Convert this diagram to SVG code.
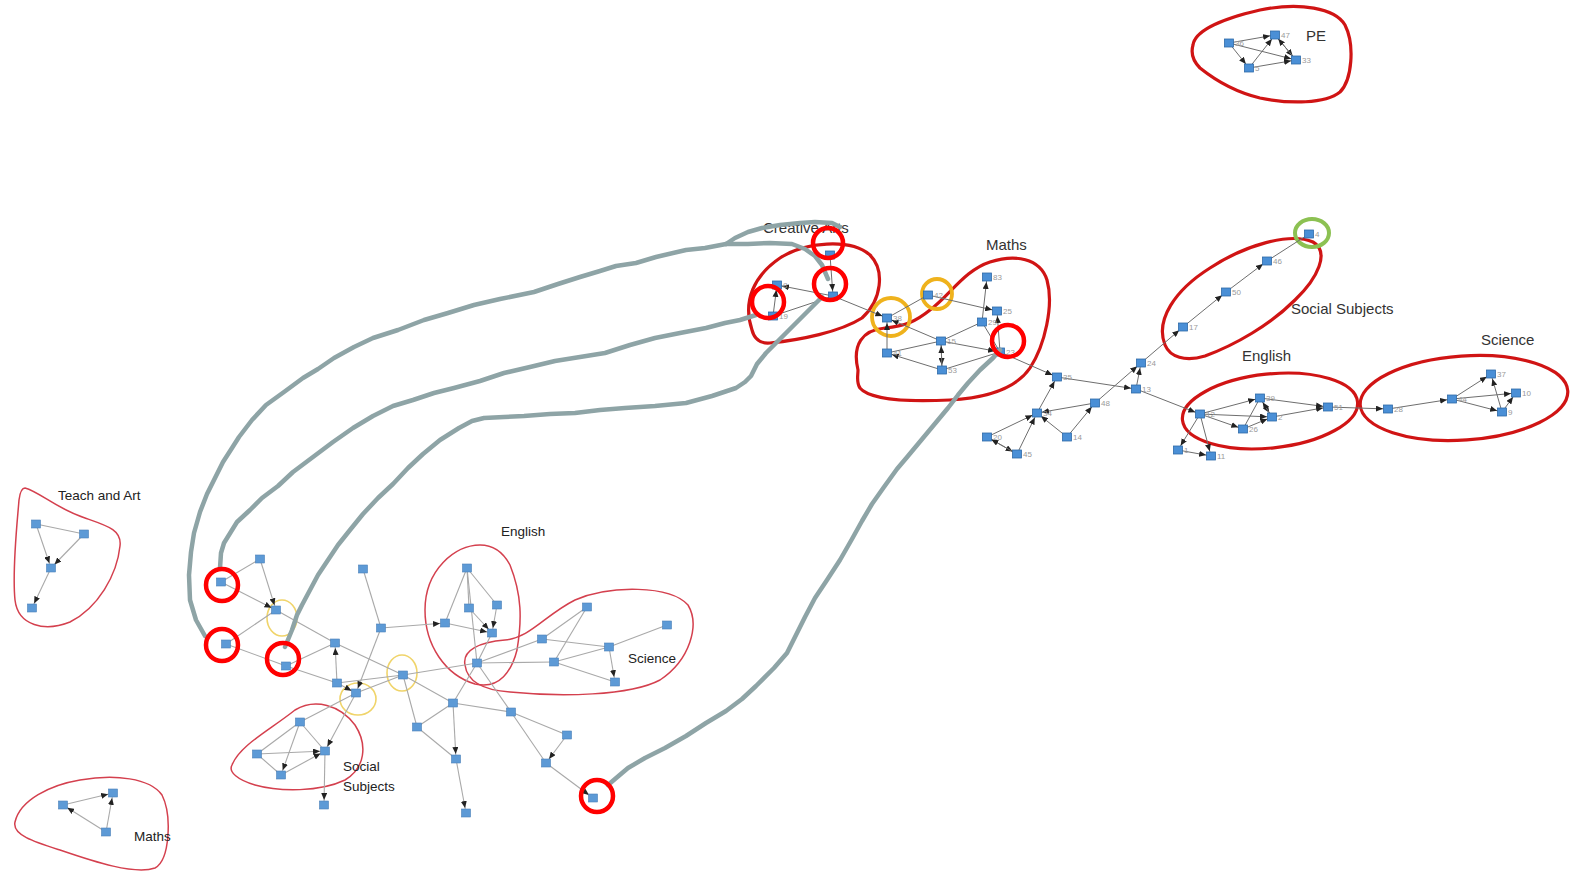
<svg xmlns="http://www.w3.org/2000/svg" width="1581" height="873" viewBox="0 0 1581 873">
<style>
.nd rect{fill:#4a8fd6;stroke:#2f6aa8;stroke-width:0.8}
.nl rect{fill:#5d9ad6;stroke:#4a7fb8;stroke-width:0.6}
.nd text,.nl text{font-family:"Liberation Sans",Arial,sans-serif;font-size:8px;fill:#9a9a9a}
.e{stroke:#6e6e6e;stroke-width:1;fill:none}
.el{stroke:#a9a9a9;stroke-width:1.1;fill:none}
.a{marker-end:url(#ar)}
.blob{fill:none;stroke:#d01414;stroke-width:3.2}
.blobl{fill:none;stroke:#d4404e;stroke-width:1.5}
.rc{fill:none;stroke:#ff0000;stroke-width:4.5}
.yc{fill:none;stroke:#efb21c;stroke-width:3.8}
.ycl{fill:none;stroke:#f0d46a;stroke-width:1.6}
.gc{fill:none;stroke:#8ea4a6;stroke-width:4.5;stroke-linecap:round;stroke-linejoin:round}
.lb{font-family:"Liberation Sans",Arial,sans-serif;font-size:15px;fill:#333}
.lbs{font-family:"Liberation Sans",Arial,sans-serif;font-size:13.5px;fill:#222}
</style>
<defs>
<marker id="ar" markerUnits="userSpaceOnUse" markerWidth="7" markerHeight="6" refX="12" refY="3" orient="auto">
<path d="M0,0 L7,3 L0,6 z" fill="#222"/>
</marker>
</defs>
<rect width="1581" height="873" fill="#ffffff"/>

<!-- cluster outlines -->
<g id="clusters">
<path class="blob" d="M1193,45 C1195,30 1225,18 1260,10 C1300,2 1335,8 1345,25 C1355,45 1352,80 1340,92 C1325,104 1290,104 1260,98 C1235,92 1215,80 1200,68 C1192,60 1191,52 1193,45 Z"/>
<path class="blob" d="M752,330 C742,300 755,275 780,258 C805,242 850,238 870,255 C885,270 882,300 862,318 C840,332 800,340 770,343 C760,344 754,338 752,330 Z"/>
<path class="blob" d="M858,370 C852,345 862,330 885,328 C905,326 915,322 930,310 C950,295 965,270 990,262 C1015,254 1040,258 1047,280 C1054,305 1045,345 1030,368 C1015,390 985,398 950,400 C910,402 870,400 860,388 C856,382 858,376 858,370 Z"/>
<path class="blob" d="M1165,345 C1155,320 1175,290 1210,268 C1245,245 1290,232 1313,242 C1330,252 1318,278 1295,300 C1270,325 1235,345 1205,356 C1185,362 1170,357 1165,345 Z"/>
<ellipse class="blob" cx="1270" cy="411" rx="88" ry="37" transform="rotate(-6 1270 411)"/>
<ellipse class="blob" cx="1464" cy="398" rx="104" ry="42" transform="rotate(-4 1464 398)"/>
<ellipse cx="1312" cy="233" rx="17" ry="14" fill="none" stroke="#8cc152" stroke-width="4"/>
<circle class="yc" cx="891" cy="317" r="19"/>
<circle class="yc" cx="937" cy="294" r="15"/>

<path class="blobl" d="M25,488 C40,492 55,508 85,518 C108,526 122,530 120,546 C117,575 98,608 70,622 C45,632 18,626 15,600 C12,570 17,525 19,500 C20,492 22,488 25,488 Z"/>
<path class="blobl" d="M480,545 C455,545 425,570 425,610 C425,645 445,675 475,684 C500,690 512,670 517,650 C522,620 522,595 510,565 C502,550 492,545 480,545 Z"/>
<path class="blobl" d="M465,665 C462,650 480,642 505,640 C530,638 545,615 575,600 C610,585 670,585 688,605 C700,625 690,660 660,680 C630,696 560,697 510,692 C480,690 467,680 465,665 Z"/>
<path class="blobl" d="M232,765 C240,745 270,730 295,710 C315,698 340,705 355,725 C368,745 365,768 345,780 C320,792 280,792 255,785 C238,780 228,772 232,765 Z"/>
<path class="blobl" d="M15,822 C20,800 50,785 80,780 C115,774 150,778 162,795 C172,815 170,860 155,868 C135,875 95,862 60,850 C35,842 12,835 15,822 Z"/>
<ellipse class="ycl" cx="282" cy="618" rx="15" ry="18"/>
<ellipse class="ycl" cx="358" cy="699" rx="18" ry="16"/>
<ellipse class="ycl" cx="402" cy="673" rx="15" ry="18"/>
</g>

<g id="connectors">
<!-- PE -->
<path class="e a" d="M1229,43 L1275,35"/>
<path class="e a" d="M1229,43 L1249,68"/>
<path class="e a" d="M1229,43 L1296,60"/>
<path class="e a" d="M1249,68 L1275,35"/>
<path class="e a" d="M1249,68 L1296,60"/>
<path class="e a" d="M1275,35 L1296,60"/>
<path class="e a" d="M1296,60 L1275,35"/>
<!-- Creative arts -->
<path class="e a" d="M830,255 L833,296"/>
<path class="e a" d="M833,296 L777,285"/>
<path class="e a" d="M773,316 L777,285"/>
<path class="e" d="M773,316 L833,296"/>
<path class="e a" d="M833,296 L887,318"/>
<!-- Maths -->
<path class="e" d="M887,318 L928,295"/>
<path class="e a" d="M928,295 L997,311"/>
<path class="e a" d="M941,341 L887,318"/>
<path class="e a" d="M887,353 L887,318"/>
<path class="e" d="M887,353 L941,341"/>
<path class="e a" d="M942,370 L887,353"/>
<path class="e a" d="M941,341 L942,370"/>
<path class="e a" d="M942,370 L941,341"/>
<path class="e" d="M941,341 L982,322"/>
<path class="e a" d="M941,341 L1000,352"/>
<path class="e" d="M942,370 L1000,352"/>
<path class="e a" d="M982,322 L987,277"/>
<path class="e" d="M1000,352 L982,322"/>
<path class="e a" d="M1000,352 L997,311"/>
<path class="e a" d="M1000,352 L1057,377"/>
<!-- middle -->
<path class="e a" d="M1057,377 L1136,389"/>
<path class="e a" d="M1037,413 L1057,377"/>
<path class="e a" d="M1095,403 L1037,413"/>
<path class="e a" d="M1067,437 L1095,403"/>
<path class="e a" d="M1067,437 L1037,413"/>
<path class="e a" d="M987,437 L1037,413"/>
<path class="e a" d="M1017,454 L1037,413"/>
<path class="e a" d="M987,437 L1017,454"/>
<path class="e a" d="M1017,454 L987,437"/>
<path class="e a" d="M1095,403 L1141,363"/>
<path class="e a" d="M1136,389 L1141,363"/>
<path class="e a" d="M1136,389 L1200,414"/>
<path class="e a" d="M1141,363 L1183,327"/>
<path class="e a" d="M1183,327 L1226,292"/>
<path class="e a" d="M1226,292 L1267,261"/>
<path class="e" d="M1267,261 L1309,234"/>
<!-- English right -->
<path class="e a" d="M1200,414 L1260,398"/>
<path class="e a" d="M1200,414 L1272,417"/>
<path class="e a" d="M1200,414 L1243,429"/>
<path class="e a" d="M1260,398 L1272,417"/>
<path class="e a" d="M1272,417 L1260,398"/>
<path class="e" d="M1243,429 L1260,398"/>
<path class="e a" d="M1243,429 L1272,417"/>
<path class="e a" d="M1260,398 L1328,407"/>
<path class="e a" d="M1272,417 L1328,407"/>
<path class="e a" d="M1328,407 L1388,409"/>
<path class="e a" d="M1200,414 L1178,450"/>
<path class="e a" d="M1200,414 L1211,456"/>
<path class="e a" d="M1178,450 L1211,456"/>
<!-- Science right -->
<path class="e a" d="M1388,409 L1452,399"/>
<path class="e a" d="M1452,399 L1491,374"/>
<path class="e a" d="M1452,399 L1516,393"/>
<path class="e a" d="M1452,399 L1502,412"/>
<path class="e a" d="M1502,412 L1491,374"/>
<path class="e a" d="M1502,412 L1516,393"/>
<!-- Teach and Art -->
<path class="el" d="M36,524 L84,534"/>
<path class="el a" d="M36,524 L51,568"/>
<path class="el a" d="M84,534 L51,568"/>
<path class="el a" d="M51,568 L32,608"/>
<!-- Maths bottom -->
<path class="el a" d="M63,805 L113,793"/>
<path class="el a" d="M106,832 L63,805"/>
<path class="el a" d="M106,832 L113,793"/>
<!-- left network -->
<path class="el" d="M221,582 L260,559"/>
<path class="el a" d="M260,559 L276,610"/>
<path class="el a" d="M221,582 L276,610"/>
<path class="el" d="M276,610 L226,644"/>
<path class="el" d="M276,610 L335,643"/>
<path class="el" d="M226,644 L286,666"/>
<path class="el" d="M286,666 L335,643"/>
<path class="el" d="M286,666 L337,683"/>
<path class="el a" d="M337,683 L335,643"/>
<path class="el" d="M335,643 L403,675"/>
<path class="el a" d="M337,683 L356,693"/>
<path class="el" d="M337,683 L403,675"/>
<path class="el" d="M363,569 L381,628"/>
<path class="el a" d="M381,628 L445,623"/>
<path class="el a" d="M381,628 L356,693"/>
<path class="el" d="M356,693 L403,675"/>
<path class="el" d="M403,675 L477,663"/>
<path class="el" d="M403,675 L453,703"/>
<path class="el" d="M403,675 L417,727"/>
<path class="el" d="M356,693 L300,722"/>
<path class="el a" d="M356,693 L325,751"/>
<path class="el" d="M300,722 L257,754"/>
<path class="el a" d="M300,722 L281,775"/>
<path class="el" d="M300,722 L325,751"/>
<path class="el a" d="M257,754 L325,751"/>
<path class="el" d="M257,754 L281,775"/>
<path class="el a" d="M281,775 L325,751"/>
<path class="el a" d="M325,751 L324,805"/>
<!-- English / Science left -->
<path class="el" d="M467,568 L445,623"/>
<path class="el" d="M467,568 L469,608"/>
<path class="el" d="M467,568 L497,605"/>
<path class="el" d="M467,568 L477,663"/>
<path class="el a" d="M469,608 L492,633"/>
<path class="el a" d="M445,623 L492,633"/>
<path class="el a" d="M497,605 L492,633"/>
<path class="el" d="M492,633 L477,663"/>
<path class="el" d="M477,663 L554,662"/>
<path class="el" d="M477,663 L542,639"/>
<path class="el" d="M542,639 L609,647"/>
<path class="el" d="M587,607 L554,662"/>
<path class="el" d="M587,607 L542,639"/>
<path class="el" d="M554,662 L609,647"/>
<path class="el" d="M609,647 L667,625"/>
<path class="el a" d="M609,647 L615,682"/>
<path class="el" d="M554,662 L615,682"/>
<!-- lower -->
<path class="el" d="M477,663 L511,712"/>
<path class="el" d="M477,663 L453,703"/>
<path class="el" d="M453,703 L417,727"/>
<path class="el a" d="M453,703 L456,759"/>
<path class="el" d="M417,727 L456,759"/>
<path class="el a" d="M456,759 L466,813"/>
<path class="el" d="M453,703 L511,712"/>
<path class="el" d="M511,712 L567,735"/>
<path class="el" d="M511,712 L546,763"/>
<path class="el a" d="M567,735 L546,763"/>
<path class="el a" d="M546,763 L593,798"/>
</g>

<!-- nodes right -->
<g id="n36" class="nd"><rect x="1224.5" y="39" width="9" height="8"/><text x="1235" y="46">36</text></g>
<g id="n47" class="nd"><rect x="1270.5" y="31" width="9" height="8"/><text x="1281" y="38">47</text></g>
<g id="n5" class="nd"><rect x="1244.5" y="64" width="9" height="8"/><text x="1255" y="71">5</text></g>
<g id="n33" class="nd"><rect x="1291.5" y="56" width="9" height="8"/><text x="1302" y="63">33</text></g>
<g id="n8" class="nd"><rect x="772.5" y="281" width="9" height="8"/><text x="783" y="288">8</text></g>
<g id="n19" class="nd"><rect x="768.5" y="312" width="9" height="8"/><text x="779" y="319">19</text></g>
<g id="nca" class="nd"><rect x="828.5" y="292" width="9" height="8"/></g>
<g id="nct" class="nd"><rect x="825.5" y="251" width="9" height="8"/></g>
<g id="n38" class="nd"><rect x="882.5" y="314" width="9" height="8"/><text x="893" y="321">38</text></g>
<g id="n42" class="nd"><rect x="923.5" y="291" width="9" height="8"/><text x="934" y="298">42</text></g>
<g id="n83" class="nd"><rect x="982.5" y="273" width="9" height="8"/><text x="993" y="280">83</text></g>
<g id="n25" class="nd"><rect x="992.5" y="307" width="9" height="8"/><text x="1003" y="314">25</text></g>
<g id="n29" class="nd"><rect x="977.5" y="318" width="9" height="8"/><text x="988" y="325">29</text></g>
<g id="n15" class="nd"><rect x="936.5" y="337" width="9" height="8"/><text x="947" y="344">15</text></g>
<g id="n41" class="nd"><rect x="882.5" y="349" width="9" height="8"/><text x="893" y="356">41</text></g>
<g id="n53" class="nd"><rect x="937.5" y="366" width="9" height="8"/><text x="948" y="373">53</text></g>
<g id="n23" class="nd"><rect x="995.5" y="348" width="9" height="8"/><text x="1006" y="355">23</text></g>
<g id="n35" class="nd"><rect x="1052.5" y="373" width="9" height="8"/><text x="1063" y="380">35</text></g>
<g id="n13" class="nd"><rect x="1131.5" y="385" width="9" height="8"/><text x="1142" y="392">13</text></g>
<g id="n24" class="nd"><rect x="1136.5" y="359" width="9" height="8"/><text x="1147" y="366">24</text></g>
<g id="n48" class="nd"><rect x="1090.5" y="399" width="9" height="8"/><text x="1101" y="406">48</text></g>
<g id="n34" class="nd"><rect x="1032.5" y="409" width="9" height="8"/><text x="1043" y="416">34</text></g>
<g id="n14" class="nd"><rect x="1062.5" y="433" width="9" height="8"/><text x="1073" y="440">14</text></g>
<g id="n20" class="nd"><rect x="982.5" y="433" width="9" height="8"/><text x="993" y="440">20</text></g>
<g id="n45" class="nd"><rect x="1012.5" y="450" width="9" height="8"/><text x="1023" y="457">45</text></g>
<g id="n17" class="nd"><rect x="1178.5" y="323" width="9" height="8"/><text x="1189" y="330">17</text></g>
<g id="n50" class="nd"><rect x="1221.5" y="288" width="9" height="8"/><text x="1232" y="295">50</text></g>
<g id="n46" class="nd"><rect x="1262.5" y="257" width="9" height="8"/><text x="1273" y="264">46</text></g>
<g id="n4" class="nd"><rect x="1304.5" y="230" width="9" height="8"/><text x="1315" y="237">4</text></g>
<g id="n12" class="nd"><rect x="1195.5" y="410" width="9" height="8"/><text x="1206" y="417">12</text></g>
<g id="n39" class="nd"><rect x="1255.5" y="394" width="9" height="8"/><text x="1266" y="401">39</text></g>
<g id="n2" class="nd"><rect x="1267.5" y="413" width="9" height="8"/><text x="1278" y="420">2</text></g>
<g id="n26" class="nd"><rect x="1238.5" y="425" width="9" height="8"/><text x="1249" y="432">26</text></g>
<g id="n51" class="nd"><rect x="1323.5" y="403" width="9" height="8"/><text x="1334" y="410">51</text></g>
<g id="n1" class="nd"><rect x="1173.5" y="446" width="9" height="8"/><text x="1184" y="453">1</text></g>
<g id="n11" class="nd"><rect x="1206.5" y="452" width="9" height="8"/><text x="1217" y="459">11</text></g>
<g id="n28" class="nd"><rect x="1383.5" y="405" width="9" height="8"/><text x="1394" y="412">28</text></g>
<g id="n44" class="nd"><rect x="1447.5" y="395" width="9" height="8"/><text x="1458" y="402">44</text></g>
<g id="n37" class="nd"><rect x="1486.5" y="370" width="9" height="8"/><text x="1497" y="377">37</text></g>
<g id="n10" class="nd"><rect x="1511.5" y="389" width="9" height="8"/><text x="1522" y="396">10</text></g>
<g id="n9" class="nd"><rect x="1497.5" y="408" width="9" height="8"/><text x="1508" y="415">9</text></g>

<!-- nodes left -->
<g id="t1" class="nl"><rect x="31.5" y="520" width="9" height="8"/></g>
<g id="t2" class="nl"><rect x="79.5" y="530" width="9" height="8"/></g>
<g id="t3" class="nl"><rect x="46.5" y="564" width="9" height="8"/></g>
<g id="t4" class="nl"><rect x="27.5" y="604" width="9" height="8"/></g>
<g id="b1" class="nl"><rect x="58.5" y="801" width="9" height="8"/></g>
<g id="b2" class="nl"><rect x="108.5" y="789" width="9" height="8"/></g>
<g id="b3" class="nl"><rect x="101.5" y="828" width="9" height="8"/></g>
<g id="la" class="nl"><rect x="255.5" y="555" width="9" height="8"/></g>
<g id="lb" class="nl"><rect x="216.5" y="578" width="9" height="8"/></g>
<g id="lc" class="nl"><rect x="271.5" y="606" width="9" height="8"/></g>
<g id="ld" class="nl"><rect x="221.5" y="640" width="9" height="8"/></g>
<g id="le" class="nl"><rect x="281.5" y="662" width="9" height="8"/></g>
<g id="lf" class="nl"><rect x="330.5" y="639" width="9" height="8"/></g>
<g id="lg" class="nl"><rect x="332.5" y="679" width="9" height="8"/></g>
<g id="lh" class="nl"><rect x="351.5" y="689" width="9" height="8"/></g>
<g id="li" class="nl"><rect x="358.5" y="565" width="9" height="8"/></g>
<g id="lj" class="nl"><rect x="376.5" y="624" width="9" height="8"/></g>
<g id="lk" class="nl"><rect x="398.5" y="671" width="9" height="8"/></g>
<g id="ll" class="nl"><rect x="412.5" y="723" width="9" height="8"/></g>
<g id="lm" class="nl"><rect x="295.5" y="718" width="9" height="8"/></g>
<g id="ln" class="nl"><rect x="252.5" y="750" width="9" height="8"/></g>
<g id="lo" class="nl"><rect x="276.5" y="771" width="9" height="8"/></g>
<g id="lp" class="nl"><rect x="320.5" y="747" width="9" height="8"/></g>
<g id="lq" class="nl"><rect x="319.5" y="801" width="9" height="8"/></g>
<g id="e1" class="nl"><rect x="462.5" y="564" width="9" height="8"/></g>
<g id="e2" class="nl"><rect x="464.5" y="604" width="9" height="8"/></g>
<g id="e3" class="nl"><rect x="492.5" y="601" width="9" height="8"/></g>
<g id="e4" class="nl"><rect x="440.5" y="619" width="9" height="8"/></g>
<g id="e5" class="nl"><rect x="487.5" y="629" width="9" height="8"/></g>
<g id="e6" class="nl"><rect x="472.5" y="659" width="9" height="8"/></g>
<g id="s1" class="nl"><rect x="582.5" y="603" width="9" height="8"/></g>
<g id="s2" class="nl"><rect x="537.5" y="635" width="9" height="8"/></g>
<g id="s3" class="nl"><rect x="549.5" y="658" width="9" height="8"/></g>
<g id="s4" class="nl"><rect x="604.5" y="643" width="9" height="8"/></g>
<g id="s5" class="nl"><rect x="662.5" y="621" width="9" height="8"/></g>
<g id="s6" class="nl"><rect x="610.5" y="678" width="9" height="8"/></g>
<g id="x1" class="nl"><rect x="448.5" y="699" width="9" height="8"/></g>
<g id="x3" class="nl"><rect x="451.5" y="755" width="9" height="8"/></g>
<g id="x4" class="nl"><rect x="461.5" y="809" width="9" height="8"/></g>
<g id="x5" class="nl"><rect x="506.5" y="708" width="9" height="8"/></g>
<g id="x6" class="nl"><rect x="562.5" y="731" width="9" height="8"/></g>
<g id="x7" class="nl"><rect x="541.5" y="759" width="9" height="8"/></g>
<g id="x8" class="nl"><rect x="588.5" y="794" width="9" height="8"/></g>

<!-- labels -->
<g id="labels">
<text class="lb" x="1306" y="41">PE</text>
<text class="lb" x="763" y="233">Creative Arts</text>
<text class="lb" x="986" y="250">Maths</text>
<text class="lb" x="1291" y="314" font-size="14.5">Social Subjects</text>
<text class="lb" x="1242" y="361">English</text>
<text class="lb" x="1481" y="345" font-size="14.5">Science</text>
<text class="lbs" x="58" y="500">Teach and Art</text>
<text class="lbs" x="501" y="536">English</text>
<text class="lbs" x="628" y="663">Science</text>
<text class="lbs" x="343" y="771">Social</text>
<text class="lbs" x="343" y="791">Subjects</text>
<text class="lbs" x="134" y="841">Maths</text>
</g>

<!-- hand-drawn annotations -->
<g id="annotations">
<path class="gc" d="M205,636 L196,620 L190,600 L189,575 L191,552 L194,533 L200,512 L207,494 L216,476 L223,462 L232,448 L239,437 L252,420 L266,405 L284,392 L303,378 L318,369 L334,358 L354,347 L373,338 L398,330 L424,320 L448,313 L474,305 L500,299 L534,292 L558,284 L580,277 L600,271 L616,266 L636,263 L656,257 L686,250 L705,248 L726,244"/>
<path class="gc" d="M726,244 L735,238 L748,232 L762,228 L780,225 L800,223 L815,222 L832,223 L840,227"/>
<path class="gc" d="M726,244 L748,244 L770,243 L792,244 L805,249 L815,256 L822,265 L828,279"/>
<path class="gc" d="M220,568 L221,553 L224,543 L237,522 L250,510 L262,498 L278,486 L293,472 L313,457 L333,442 L353,428 L373,416 L393,406 L413,400 L434,393 L454,388 L480,381 L504,373 L530,367 L555,361 L580,357 L605,353 L630,345 L655,338 L680,333 L706,328 L725,323 L740,320 L756,315"/>
<path class="gc" d="M285,647 L292,630 L297,615 L302,605 L310,590 L318,575 L328,560 L338,545 L350,530 L363,514 L378,498 L393,484 L408,468 L423,454 L440,440 L459,428 L472,421 L484,418 L504,417 L524,416 L550,414 L575,413 L600,410 L625,408 L655,406 L686,403 L712,396 L736,388 L745,382 L751,376 L757,364 L766,353 L776,343 L786,333 L796,323 L806,313 L814,305 L822,297"/>
<path class="gc" d="M608,785 L615,779 L628,768 L645,758 L665,748 L686,736 L706,723 L726,711 L742,699 L756,686 L774,668 L787,653 L795,637 L805,617 L815,598 L827,580 L840,560 L852,539 L862,521 L872,504 L884,487 L897,469 L908,456 L918,444 L933,426 L948,408 L958,395 L968,383 L980,370 L993,358 L1000,350"/>
<circle class="rc" cx="828" cy="243" r="15"/>
<circle class="rc" cx="830" cy="284" r="16"/>
<circle class="rc" cx="768" cy="302" r="16"/>
<circle class="rc" cx="1008" cy="341" r="16"/>
<circle class="rc" cx="222" cy="585" r="16"/>
<circle class="rc" cx="222" cy="645" r="16"/>
<circle class="rc" cx="283" cy="659" r="16"/>
<circle class="rc" cx="597" cy="796" r="16"/>
</g>
</svg>
